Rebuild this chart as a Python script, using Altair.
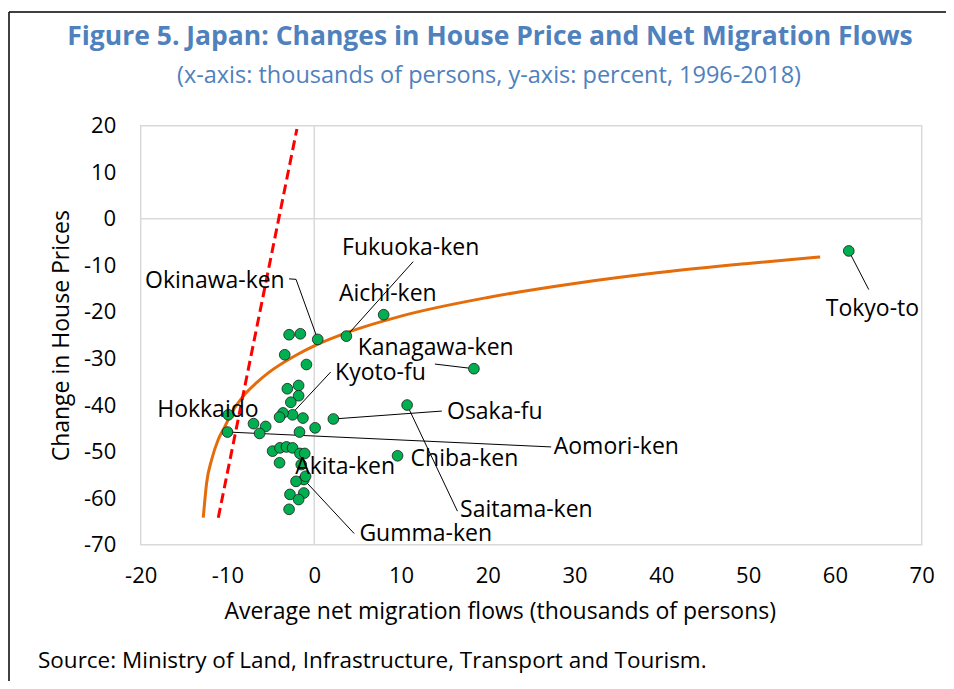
import altair as alt
import pandas as pd

# ---------------- data ----------------
names = ["Tokyo-to", "Aichi-ken", "Fukuoka-ken", "Okinawa-ken", "Kanagawa-ken",
         "Saitama-ken", "Chiba-ken", "Osaka-fu", "Kyoto-fu", "Hokkaido",
         "Aomori-ken", "Akita-ken", "Gumma-ken"] + [""] * 29
migration = [61.6, 8.0, 3.7, 0.4, 18.4, 10.7, 9.6, 2.2, -2.5, -9.9, -10.0, -1.5, -1.2,
             -2.9, -1.6, -3.4, -0.9, -3.1, -1.8, -1.8, -2.7, -3.6, -4.0, -1.3,
             -7.0, -5.6, -6.3, -1.7, 0.1, -4.8, -3.95, -3.2, -2.5, -1.65, -1.1,
             -4.0, -1.0, -2.1, -2.8, -1.2, -1.8, -2.9]
price = [-6.9, -20.6, -25.2, -25.9, -32.2, -40.0, -50.9, -43.0, -42.1, -42.1, -45.8, -52.8, -56.0,
         -24.9, -24.7, -29.2, -31.3, -36.5, -35.8, -38.0, -39.4, -41.7, -42.6, -42.8,
         -44.0, -44.6, -46.1, -45.8, -44.9, -49.9, -49.2, -49.0, -49.2, -50.4, -50.4,
         -52.4, -55.3, -56.4, -59.2, -58.9, -60.3, -62.4]

# data labels (left edge / vertical centre, in data units)
label_text = ["Tokyo-to", "Aichi-ken", "Fukuoka-ken", "Okinawa-ken", "Kanagawa-ken",
              "Kyoto-fu", "Hokkaido", "Osaka-fu", "Aomori-ken", "Akita-ken",
              "Chiba-ken", "Saitama-ken", "Gumma-ken"]
label_x = [58.95, 2.85, 3.2, -19.5, 5.0, 2.4, -18.1, 15.3, 27.6, -2.2, 11.1, 16.8, 5.2]
label_y = [-19.3, -16.1, -6.2, -13.3, -27.7, -33.2, -41.0, -41.6, -49.1, -53.4, -51.5, -62.5, -67.8]

# leader lines
lead_x1 = [61.6, 3.7, -2.9, -2.1, 13.9, 1.9, 14.7, 27.3, 16.5, 4.6]
lead_y1 = [-6.9, -25.2, -12.9, -13.0, -31.2, -32.9, -41.3, -49.0, -62.8, -67.6]
lead_x2 = [63.9, 11.4, -2.1, 0.4, 18.4, -2.3, 2.2, -10.0, 10.7, -1.2]
lead_y2 = [-15.2, -9.2, -13.0, -25.9, -32.2, -41.3, -43.0, -45.8, -40.0, -56.0]

# orange trend line
trend_x = [-12.79, -12.4, -11.82, -11.06, -10.29, -9.52, -8.18, -6.64, -5.3, -2.0, 0.0,
           4.0, 10.0, 20.0, 30.0, 40.0, 50.0, 58.3]
trend_y = [-64.2, -56.7, -51.7, -47.4, -44.6, -41.7, -38.1, -35.2, -33.1, -29.2, -27.3,
           -24.3, -20.9, -16.9, -13.9, -11.5, -9.6, -8.2]

# red dashed line
ref_x = [-11.06, -2.0]
ref_y = [-64.2, 19.3]

x_ticks = [-20, -10, 0, 10, 20, 30, 40, 50, 60, 70]
y_ticks = [-70, -60, -50, -40, -30, -20, -10, 0, 10, 20]
zero = [0]

TITLE = "Figure 5. Japan: Changes in House Price and Net Migration Flows"
SUBTITLE = "(x-axis: thousands of persons, y-axis: percent, 1996-2018)"
SOURCE = "Source: Ministry of Land, Infrastructure, Transport and Tourism."

FONT = "Open Sans"
BLUE = "#4F81BD"
W, H = 781, 419

pts = pd.DataFrame({"name": names, "x": migration, "y": price})
labels = pd.DataFrame({"t": label_text, "x": label_x, "y": label_y})
leads = pd.DataFrame({"x": lead_x1, "y": lead_y1, "x2": lead_x2, "y2": lead_y2})
trend = pd.DataFrame({"x": trend_x, "y": trend_y})
ref = pd.DataFrame({"x": ref_x, "y": ref_y})
zdf = pd.DataFrame({"z": zero})
one = pd.DataFrame({"s": [SOURCE], "t": [TITLE], "st": [SUBTITLE]})

xs = alt.Scale(domain=[-20, 70], nice=False)
ys = alt.Scale(domain=[-70, 20], nice=False)

xaxis = alt.Axis(values=x_ticks, title="Average net migration flows (thousands of persons)",
                 grid=False, domain=False, ticks=False, labelPadding=21, labelExpr="datum.value",
                 labelFlush=False,
                 titleX=359, titleY=67, titleAlign="center", titleBaseline="middle")
yaxis = alt.Axis(values=y_ticks, title="Change in House Prices",
                 grid=False, domain=False, ticks=False, labelPadding=25, labelExpr="datum.value",
                 labelFlush=False,
                 titleX=-79, titleY=209.5, titleAlign="center", titleBaseline="middle")

zx = alt.Chart(zdf).mark_rule(color="#D9D9D9", strokeWidth=1.5).encode(
    x=alt.X("z:Q", scale=xs, axis=xaxis))
zy = alt.Chart(zdf).mark_rule(color="#D9D9D9", strokeWidth=1.5).encode(
    y=alt.Y("z:Q", scale=ys, axis=yaxis))

trend_line = alt.Chart(trend).mark_line(color="#E46C0A", strokeWidth=3, interpolate="monotone").encode(
    x=alt.X("x:Q", scale=xs), y=alt.Y("y:Q", scale=ys))

ref_line = alt.Chart(ref).mark_line(color="#FF0000", strokeWidth=3, strokeDash=[10, 5]).encode(
    x=alt.X("x:Q", scale=xs), y=alt.Y("y:Q", scale=ys))

lead_lines = alt.Chart(leads).mark_rule(color="#000000", strokeWidth=1).encode(
    x=alt.X("x:Q", scale=xs), y=alt.Y("y:Q", scale=ys), x2="x2:Q", y2="y2:Q")

points = alt.Chart(pts).mark_point(shape="circle", filled=True, fill="#00B050", stroke="#1A1A1A",
                                   strokeWidth=0.8, size=115, opacity=1).encode(
    x=alt.X("x:Q", scale=xs), y=alt.Y("y:Q", scale=ys))

texts = alt.Chart(labels).mark_text(align="left", baseline="middle", fontSize=23, font=FONT,
                                    color="#000000").encode(
    x=alt.X("x:Q", scale=xs), y=alt.Y("y:Q", scale=ys), text="t:N")

source = alt.Chart(one).mark_text(align="left", baseline="middle", fontSize=22.5, font=FONT,
                                  color="#000000").encode(
    x=alt.value(-102.7), y=alt.value(535.3), text="s:N")

title_t = alt.Chart(one).mark_text(align="center", baseline="middle", fontSize=26.5, font=FONT,
                                   fontWeight="bold", color=BLUE).encode(
    x=alt.value(349.3), y=alt.value(-88.7), text="t:N")
subtitle_t = alt.Chart(one).mark_text(align="center", baseline="middle", fontSize=23.5, font=FONT,
                                      color=BLUE).encode(
    x=alt.value(348.3), y=alt.value(-49.7), text="st:N")

border_top = alt.Chart(one).mark_rule(color="#000000", strokeWidth=1.5).encode(
    x=alt.value(-131.7), x2=alt.value(813.3), y=alt.value(-113.7))
border_left = alt.Chart(one).mark_rule(color="#000000", strokeWidth=1.5).encode(
    x=alt.value(-131.7), y=alt.value(-113.7), y2=alt.value(563.3))

chart = alt.layer(zx, zy, trend_line, ref_line, lead_lines, points, texts, source,
                  title_t, subtitle_t, border_top, border_left).properties(
    width=W, height=H,
    autosize=alt.AutoSizeParams(type="none"),
    padding={"left": 132.7, "top": 117.7, "right": 24, "bottom": 136},
).configure_view(stroke="#D9D9D9", strokeWidth=1.5).configure_axis(
    labelFontSize=22, labelFont=FONT, labelColor="#000000",
    titleFontSize=23, titleFont=FONT, titleColor="#000000", titleFontWeight="normal")

chart.save("out.html", embed_options={"renderer": "svg", "actions": False})
